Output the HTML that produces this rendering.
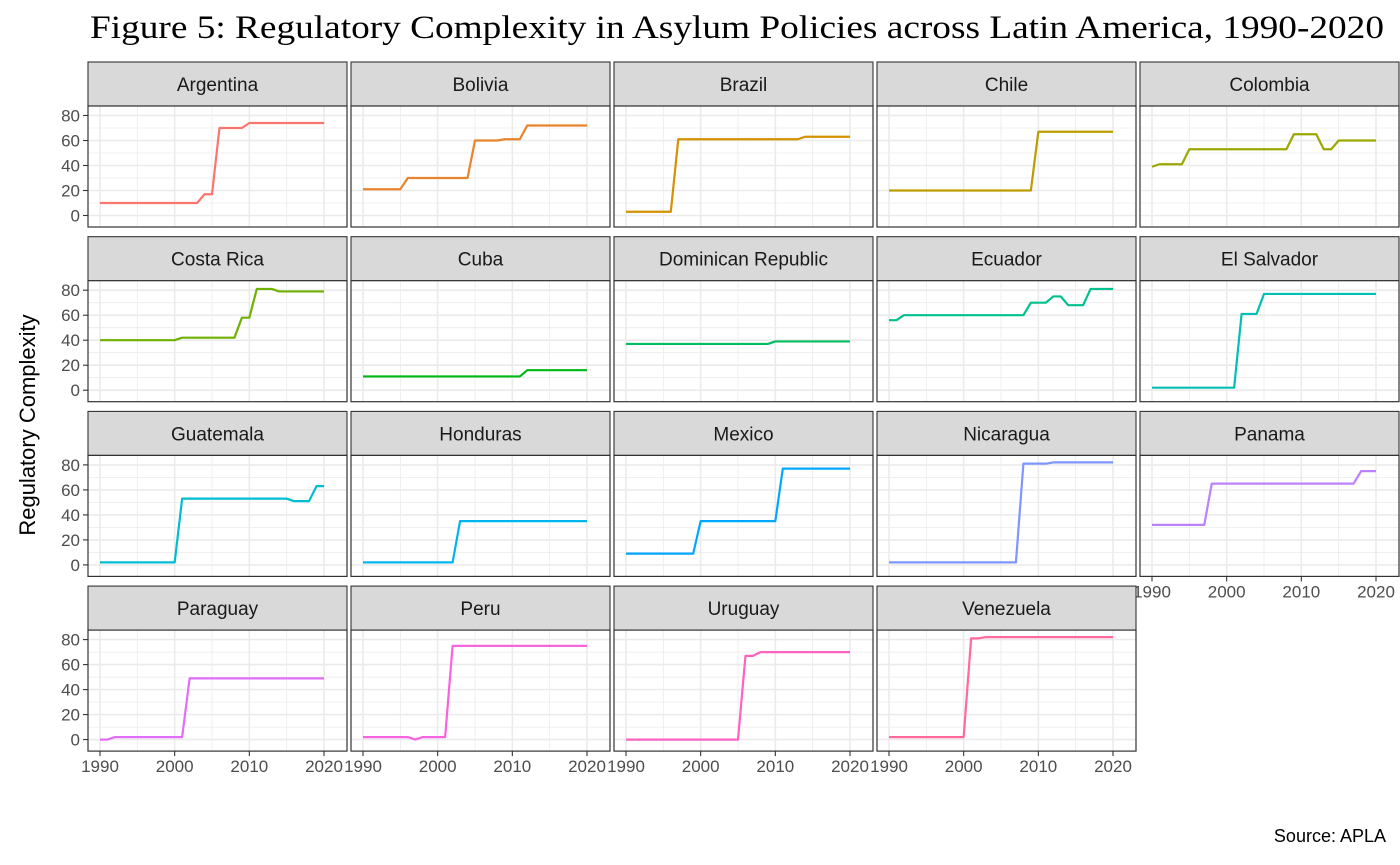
<!DOCTYPE html>
<html><head><meta charset="utf-8">
<style>
html,body{margin:0;padding:0;background:#fff;}
svg{display:block;font-family:"Liberation Sans",sans-serif;}
</style></head>
<body>
<svg id="chart" width="1400" height="865" viewBox="0 0 1400 865" xmlns="http://www.w3.org/2000/svg">
<text x="90" y="38" textLength="1294" lengthAdjust="spacingAndGlyphs" font-family="Liberation Serif, serif" font-size="33" fill="#000">Figure 5: Regulatory Complexity in Asylum Policies across Latin America, 1990-2020</text>
<text transform="translate(35,425) rotate(-90)" text-anchor="middle" font-size="22" fill="#000">Regulatory Complexity</text>
<text x="1386" y="842" text-anchor="end" font-size="18" fill="#000">Source: APLA</text>
<g id="panels"></g>
</svg>
<script>
const countries = ["Argentina","Bolivia","Brazil","Chile","Colombia","Costa Rica","Cuba","Dominican Republic","Ecuador","El Salvador","Guatemala","Honduras","Mexico","Nicaragua","Panama","Paraguay","Peru","Uruguay","Venezuela"];
// step definitions: [startYear, value] pairs, value holds until next start
const argentina = [[1990,10],[2004,17],[2006,70],[2010,74]];
const bolivia = [[1990,21],[1996,30],[2005,60],[2009,61],[2012,72]];
const brazil = [[1990,3],[1997,61],[2014,63]];
const chile = [[1990,20],[2010,67]];
const colombia = [[1990,39],[1991,41],[1995,53],[2009,65],[2013,53],[2015,60]];
const costaRica = [[1990,40],[2001,42],[2009,58],[2011,81],[2014,79]];
const cuba = [[1990,11],[2012,16]];
const dominican = [[1990,37],[2010,39]];
const ecuador = [[1990,56],[1992,60],[2009,70],[2012,75],[2014,68],[2017,81]];
const elSalvador = [[1990,2],[2002,61],[2005,77]];
const guatemala = [[1990,2],[2001,53],[2016,51],[2019,63]];
const honduras = [[1990,2],[2003,35]];
const mexico = [[1990,9],[2000,35],[2011,77]];
const nicaragua = [[1990,2],[2008,81],[2012,82]];
const panama = [[1990,32],[1998,65],[2018,75]];
const paraguay = [[1990,0],[1992,2],[2002,49]];
const peru = [[1990,2],[1997,0],[1998,2],[2002,75]];
const uruguay = [[1990,0],[2006,67],[2008,70]];
const venezuela = [[1990,2],[2001,81],[2003,82]];
const seriesList = [argentina,bolivia,brazil,chile,colombia,costaRica,cuba,dominican,ecuador,elSalvador,guatemala,honduras,mexico,nicaragua,panama,paraguay,peru,uruguay,venezuela];
const yTicks = [0,20,40,60,80];
const yMinor = [10,30,50,70];
const xTicks = [1990,2000,2010,2020];
const xMinor = [1995,2005,2015];

function hcl(h){
  const L=65,C=100,rad=h*Math.PI/180;
  const u=C*Math.cos(rad),v=C*Math.sin(rad);
  const Xn=95.047,Yn=100,Zn=108.883;
  const den=Xn+15*Yn+3*Zn, un=4*Xn/den, vn=9*Yn/den;
  const Y=Yn*Math.pow((L+16)/116,3);
  const up=u/(13*L)+un, vp=v/(13*L)+vn;
  const X=9*Y*up/(4*vp), Z=-X/3-5*Y+3*Y/vp;
  const x=X/100,y=Y/100,z=Z/100;
  let r=3.2404542*x-1.5371385*y-0.4985314*z;
  let g=-0.9692660*x+1.8760108*y+0.0415560*z;
  let b=0.0556434*x-0.2040259*y+1.0572252*z;
  const gm=c=>{c=c<=0.0031308?12.92*c:1.055*Math.pow(c,1/2.4)-0.055;return Math.round(Math.max(0,Math.min(1,c))*255);};
  return `rgb(${gm(r)},${gm(g)},${gm(b)})`;
}
const NS="http://www.w3.org/2000/svg";
const root=document.getElementById('panels');
function mk(tag,attrs,parent){const e=document.createElementNS(NS,tag);for(const k in attrs)e.setAttribute(k,attrs[k]);parent.appendChild(e);return e;}

const colW=259, colStep=263, rowStep=174.7, stripH=44, plotH=121, top0=62, left0=88;
countries.forEach((name,i)=>{
  const col=i%5,row=Math.floor(i/5);
  const L=left0+col*colStep, T=top0+row*rowStep, PT=T+stripH, PB=PT+plotH;
  const xs=yr=>L+12+(yr-1990)*(224/30);
  const ys=v=>PT+109.5-v*1.25;
  const g=mk('g',{},root);
  
  
  const strip=mk('rect',{x:L,y:T,width:colW,height:stripH,fill:'#D9D9D9',stroke:'#333',"stroke-width":1.1},g);
  
  
  const st=mk('text',{x:L+colW/2,y:T+29,"text-anchor":"middle","font-size":19,fill:'#1A1A1A'},g);
  st.textContent=name;
  
  
  mk('rect',{x:L,y:PT,width:colW,height:plotH,fill:'#fff'},g);
  yMinor.forEach(v=>mk('line',{x1:L,x2:L+colW,y1:ys(v),y2:ys(v),stroke:'#EBEBEB',"stroke-width":0.8},g));
  xMinor.forEach(v=>mk('line',{x1:xs(v),x2:xs(v),y1:PT,y2:PB,stroke:'#EBEBEB',"stroke-width":0.8},g));
  yTicks.forEach(v=>mk('line',{x1:L,x2:L+colW,y1:ys(v),y2:ys(v),stroke:'#EBEBEB',"stroke-width":1.6},g));
  xTicks.forEach(v=>mk('line',{x1:xs(v),x2:xs(v),y1:PT,y2:PB,stroke:'#EBEBEB',"stroke-width":1.6},g));
  const steps=seriesList[i];const pts=[];
  for(let yr=1990;yr<=2020;yr++){let val=steps[0][1];steps.forEach(s=>{if(yr>=s[0])val=s[1];});pts.push(xs(yr).toFixed(2)+','+ys(val).toFixed(2));}
  const pl=mk('polyline',{points:pts.join(' '),fill:'none',stroke:hcl(15+i*360/19),"stroke-width":2.2,"stroke-linejoin":"round"},g);
  
  
  const bd=mk('rect',{x:L,y:PT,width:colW,height:plotH,fill:'none',stroke:'#333',"stroke-width":1.2},g);
  
  
  if(col===0){
    yTicks.forEach(v=>{
      mk('line',{x1:L-5,x2:L,y1:ys(v),y2:ys(v),stroke:'#333',"stroke-width":1.1},g);
      const t=mk('text',{x:L-8,y:ys(v)+6,"text-anchor":"end","font-size":17,fill:'#4D4D4D'},g);
      t.textContent=v;
      
      
    });
  }
  if(row===3||i===14){
    xTicks.forEach(v=>{
      mk('line',{x1:xs(v),x2:xs(v),y1:PB,y2:PB+5,stroke:'#333',"stroke-width":1.1},g);
      const t=mk('text',{x:xs(v),y:PB+21,"text-anchor":"middle","font-size":17,fill:'#4D4D4D'},g);
      t.textContent=v;
      
      
    });
  }
});
</script>
</body></html>
